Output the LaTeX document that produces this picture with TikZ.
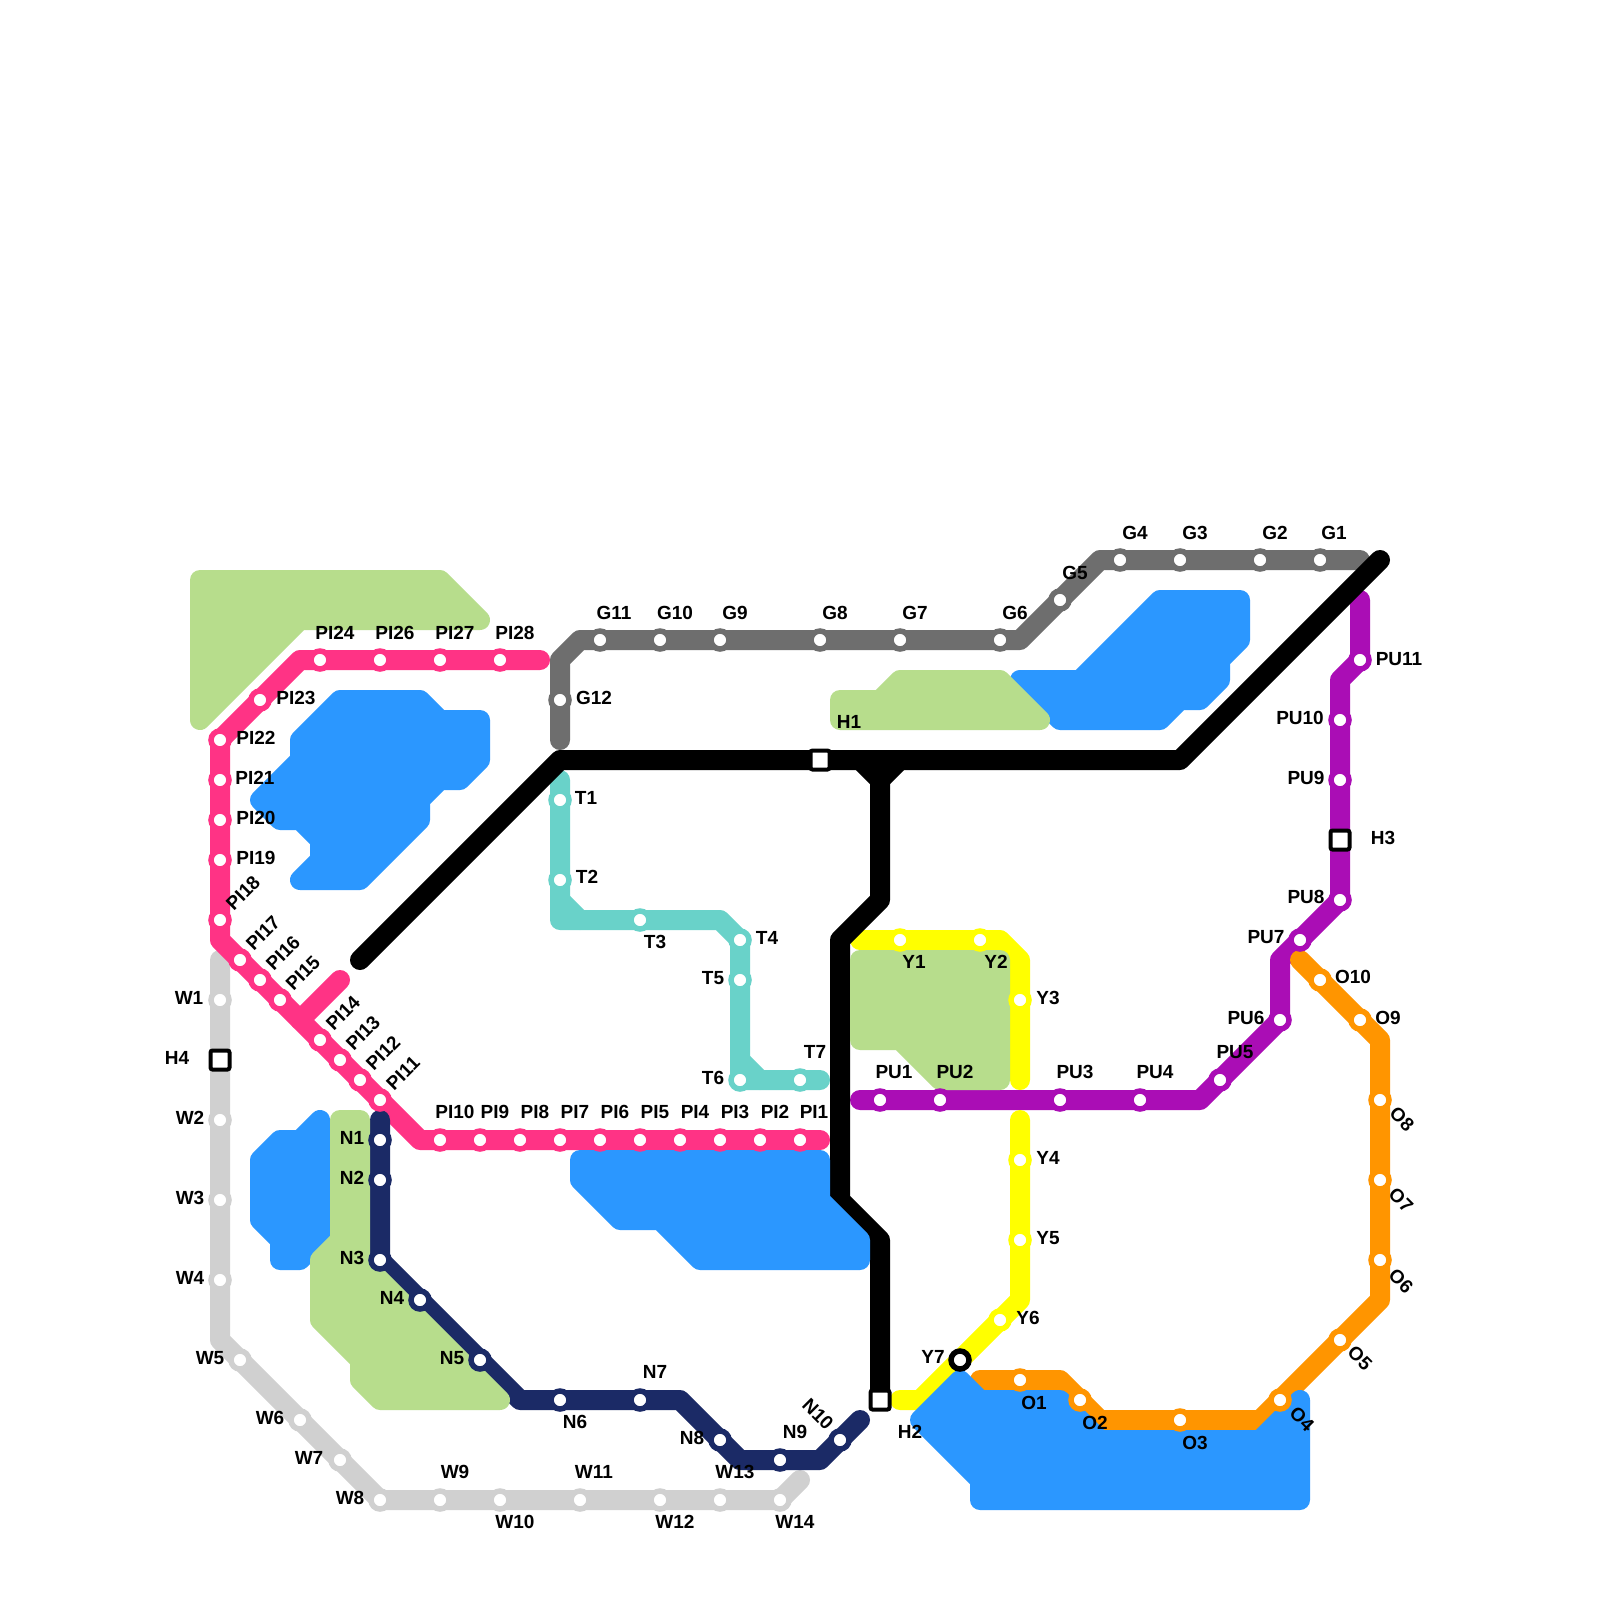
\documentclass[tikz,border=0pt]{standalone}
\usepackage{fontspec}
\setmainfont{Liberation Sans}
\definecolor{cpink}{HTML}{FF3385}
\definecolor{cnavy}{HTML}{1B2A66}
\definecolor{cteal}{HTML}{69D2C9}
\definecolor{cwater}{HTML}{2B97FF}
\definecolor{cpark}{HTML}{B7DD8C}
\definecolor{cyell}{HTML}{FFFF00}
\definecolor{corng}{HTML}{FF9500}
\definecolor{cpurp}{HTML}{AA0DB5}
\definecolor{cgrey}{HTML}{6E6E6E}
\definecolor{clite}{HTML}{D0D0D0}
\pgfdeclarelayer{lines}
\pgfdeclarelayer{water}
\pgfdeclarelayer{park}
\pgfsetlayers{lines,water,park,main}
\tikzset{
  metro/.style={draw=#1,line width=20pt,line cap=round,line join=round},
  area/.style={draw=#1,fill=#1,line width=20pt,line join=round},
  stn/.style={circle,fill=white,draw=#1,line width=5.5pt,minimum size=18pt,inner sep=0pt,outer sep=0pt},
  hub/.style={rectangle,rounded corners=2pt,fill=white,draw=black,line width=4pt,minimum size=19pt,inner sep=0pt,outer sep=0pt},
  lbl/.style={font=\fontsize{19}{19}\selectfont\bfseries,inner sep=0pt,text=black}
}
\newcommand\lab[4][0]{\node[lbl,rotate=#1] (l#2) at (#3,#4) {#2};}
\begin{document}
\begin{tikzpicture}[x=1pt,y=-1pt]
\useasboundingbox (0,0) rectangle (1600,1600);
% free corners of the lines
\foreach \n/\x/\y in {ga/560/740,gb/560/660,gc/580/640,gd/1020/640,ge/1100/560,gf/1360/560,
  pa/540/660,pb/300/660,pd/220/940,pe/300/1020,pf/420/1140,pg/820/1140,ph/340/980,
  ta/560/780,tb/560/920,tc/720/920,td/820/1080,te/560/900,tf/580/920,tg/740/1060,th/760/1080,
  ua/860/1100,ub/1200/1100,uc/1280/960,ud/1340/680,ue/1360/600,
  ya/860/940,yb/1000/940,yc/1020/960,yd/1020/1080,ye/1020/1120,yf/1020/1300,yg/920/1400,yh/900/1400,
  oa/980/1380,ob/1060/1380,oc/1100/1420,od/1260/1420,oe/1380/1300,of/1380/1040,og/1300/960,
  wa/220/960,wb/220/1340,we/800/1480,
  na/380/1120,nc/520/1400,nd/680/1400,ne/740/1460,nf/820/1460,ng/860/1420,
  ka/360/960,kb/560/760,kc/1180/760,kd/1380/560,ke/860/760,kf/880/780,kg/900/760,kh/880/900,ki/840/940,kj/840/1200,kk/880/1240}
  {\coordinate (\n) at (\x,\y);}
% stations
\foreach \n/\x/\y in {G1/1320/560,G2/1260/560,G3/1180/560,G4/1120/560,G5/1060/600,G6/1000/640,G7/900/640,G8/820/640,G9/720/640,G10/660/640,G11/600/640,G12/560/700}
  {\node[stn=cgrey] (\n) at (\x,\y) {};}
\foreach \n/\x/\y in {PI1/800/1140,PI2/760/1140,PI3/720/1140,PI4/680/1140,PI5/640/1140,PI6/600/1140,PI7/560/1140,PI8/520/1140,PI9/480/1140,PI10/440/1140,PI11/380/1100,PI12/360/1080,PI13/340/1060,PI14/320/1040,PI15/280/1000,PI16/260/980,PI17/240/960,PI18/220/920,PI19/220/860,PI20/220/820,PI21/220/780,PI22/220/740,PI23/260/700,PI24/320/660,PI26/380/660,PI27/440/660,PI28/500/660}
  {\node[stn=cpink] (\n) at (\x,\y) {};}
\foreach \n/\x/\y in {T1/560/800,T2/560/880,T3/640/920,T4/740/940,T5/740/980,T6/740/1080,T7/800/1080}
  {\node[stn=cteal] (\n) at (\x,\y) {};}
\foreach \n/\x/\y in {PU1/880/1100,PU2/940/1100,PU3/1060/1100,PU4/1140/1100,PU5/1220/1080,PU6/1280/1020,PU7/1300/940,PU8/1340/900,PU9/1340/780,PU10/1340/720,PU11/1360/660}
  {\node[stn=cpurp] (\n) at (\x,\y) {};}
\foreach \n/\x/\y in {Y1/900/940,Y2/980/940,Y3/1020/1000,Y4/1020/1160,Y5/1020/1240,Y6/1000/1320}
  {\node[stn=cyell] (\n) at (\x,\y) {};}
\node[stn=black] (Y7) at (960,1360) {};
\foreach \n/\x/\y in {O1/1020/1380,O2/1080/1400,O3/1180/1420,O4/1280/1400,O5/1340/1340,O6/1380/1260,O7/1380/1180,O8/1380/1100,O9/1360/1020,O10/1320/980}
  {\node[stn=corng] (\n) at (\x,\y) {};}
\foreach \n/\x/\y in {W1/220/1000,W2/220/1120,W3/220/1200,W4/220/1280,W5/240/1360,W6/300/1420,W7/340/1460,W8/380/1500,W9/440/1500,W10/500/1500,W11/580/1500,W12/660/1500,W13/720/1500,W14/780/1500}
  {\node[stn=clite] (\n) at (\x,\y) {};}
\foreach \n/\x/\y in {N1/380/1140,N2/380/1180,N3/380/1260,N4/420/1300,N5/480/1360,N6/560/1400,N7/640/1400,N8/720/1440,N9/780/1460,N10/840/1440}
  {\node[stn=cnavy] (\n) at (\x,\y) {};}
\node[hub] (H1) at (820,760) {};
\node[hub] (H2) at (880,1400) {};
\node[hub] (H3) at (1340,840) {};
\node[hub] (H4) at (220,1060) {};
% lines
\begin{pgfonlayer}{lines}
\fill[white] (0,0) rectangle (1600,1600);
\draw[metro=clite] (wa) -- (W1.center) -- (H4.center) -- (W2.center) -- (W3.center) -- (W4.center) -- (wb) -- (W5.center) -- (W6.center) -- (W7.center) -- (W8.center) -- (W9.center) -- (W14.center) -- (we);
\draw[metro=cgrey] (ga) -- (gb) -- (gc) -- (G11.center) -- (G6.center) -- (gd) -- (G5.center) -- (ge) -- (G4.center) -- (G1.center) -- (gf);
\draw[metro=cpink] (pa) -- (PI24.center) -- (pb) -- (PI23.center) -- (PI22.center) -- (PI18.center) -- (pd) -- (PI17.center) -- (pe) -- (PI11.center) -- (pf) -- (PI10.center) -- (pg);
\draw[metro=cpink] (pe) -- (ph);
\draw[metro=cteal] (ta) -- (T1.center) -- (T2.center) -- (tb) -- (T3.center) -- (tc) -- (T4.center) -- (T5.center) -- (T6.center) -- (T7.center) -- (td);
\draw[metro=cteal] (te) -- (tf);
\draw[metro=cteal] (tg) -- (th);
\draw[metro=cpurp] (ua) -- (PU1.center) -- (PU4.center) -- (ub) -- (PU5.center) -- (PU6.center) -- (uc) -- (PU7.center) -- (PU8.center) -- (H3.center) -- (PU9.center) -- (PU10.center) -- (ud) -- (PU11.center) -- (ue);
\draw[metro=cyell] (ya) -- (Y1.center) -- (Y2.center) -- (yb) -- (yc) -- (Y3.center) -- (yd);
\draw[metro=cyell] (ye) -- (Y4.center) -- (Y5.center) -- (yf) -- (Y6.center) -- (Y7.center) -- (yg) -- (yh);
\draw[metro=corng] (oa) -- (O1.center) -- (ob) -- (O2.center) -- (oc) -- (O3.center) -- (od) -- (O4.center) -- (O5.center) -- (oe) -- (O6.center) -- (O7.center) -- (O8.center) -- (of) -- (O9.center) -- (O10.center) -- (og);
\draw[metro=cnavy] (na) -- (N1.center) -- (N2.center) -- (N3.center) -- (N4.center) -- (N5.center) -- (nc) -- (N6.center) -- (N7.center) -- (nd) -- (N8.center) -- (ne) -- (N9.center) -- (nf) -- (N10.center) -- (ng);
\draw[metro=black] (ka) -- (kb) -- (H1.center) -- (kc) -- (kd);
\draw[metro=black] (ke) -- (kf) -- (kh) -- (ki) -- (kj) -- (kk) -- (H2.center);
\draw[metro=black] (kg) -- (kf);
\end{pgfonlayer}
% water
\begin{pgfonlayer}{water}
\draw[area=cwater] (340,700) -- (420,700) -- (440,720) -- (480,720) -- (480,760) -- (460,780) -- (440,780) -- (420,800) -- (420,820) -- (360,880) -- (300,880) -- (320,860) -- (320,840) -- (300,820) -- (280,820) -- (260,800) -- (300,760) -- (300,740) -- cycle;
\draw[area=cwater] (320,1120) -- (320,1240) -- (300,1260) -- (280,1260) -- (280,1240) -- (260,1220) -- (260,1160) -- (280,1140) -- (300,1140) -- cycle;
\draw[area=cwater] (580,1160) -- (820,1160) -- (820,1200) -- (860,1240) -- (860,1260) -- (700,1260) -- (660,1220) -- (620,1220) -- (580,1180) -- cycle;
\draw[area=cwater] (1160,600) -- (1240,600) -- (1240,640) -- (1220,660) -- (1220,680) -- (1200,700) -- (1180,700) -- (1160,720) -- (1060,720) -- (1020,680) -- (1080,680) -- cycle;
\draw[area=cwater] (960,1380) -- (980,1400) -- (1060,1400) -- (1100,1440) -- (1260,1440) -- (1300,1400) -- (1300,1500) -- (980,1500) -- (980,1480) -- (920,1420) -- cycle;
\end{pgfonlayer}
% parks
\begin{pgfonlayer}{park}
\draw[area=cpark] (200,580) -- (440,580) -- (480,620) -- (300,620) -- (200,720) -- cycle;
\draw[area=cpark] (340,1120) -- (360,1120) -- (360,1260) -- (500,1400) -- (380,1400) -- (360,1380) -- (360,1360) -- (320,1320) -- (320,1260) -- (340,1240) -- cycle;
\draw[area=cpark] (840,700) -- (880,700) -- (900,680) -- (1000,680) -- (1040,720) -- (840,720) -- cycle;
\draw[area=cpark] (860,960) -- (1000,960) -- (1000,1080) -- (940,1080) -- (900,1040) -- (860,1040) -- cycle;
\end{pgfonlayer}
% labels
\lab{PI24}{335}{633}\lab{PI26}{395}{633}\lab{PI27}{455}{633}\lab{PI28}{515}{633}
\lab{PI23}{296}{698}\lab{PI22}{256}{738}\lab{PI21}{255}{778}\lab{PI20}{256}{818}\lab{PI19}{256}{858}
\lab[45]{PI18}{243}{893}\lab[45]{PI17}{263}{933}\lab[45]{PI16}{283}{953}\lab[45]{PI15}{303}{973}
\lab[45]{PI14}{343}{1013}\lab[45]{PI13}{363}{1033}\lab[45]{PI12}{383}{1053}\lab[45]{PI11}{403}{1073}
\lab{PI10}{455}{1112}\lab{PI9}{495}{1112}\lab{PI8}{535}{1112}\lab{PI7}{575}{1112}\lab{PI6}{615}{1112}
\lab{PI5}{655}{1112}\lab{PI4}{695}{1112}\lab{PI3}{735}{1112}\lab{PI2}{775}{1112}\lab{PI1}{814}{1112}
\lab{W1}{189}{998}\lab{H4}{177}{1058}\lab{W2}{190}{1118}\lab{W3}{190}{1198}\lab{W4}{190}{1278}
\lab{W5}{210}{1358}\lab{W6}{270}{1418}\lab{W7}{309}{1458}\lab{W8}{350}{1498}
\lab{W9}{455}{1472}\lab{W10}{515}{1522}\lab{W11}{594}{1472}\lab{W12}{675}{1522}\lab{W13}{735}{1472}\lab{W14}{795}{1522}
\lab{N1}{352}{1138}\lab{N2}{352}{1178}\lab{N3}{352}{1258}\lab{N4}{392}{1298}\lab{N5}{452}{1358}
\lab{N6}{575}{1422}\lab{N7}{655}{1372}\lab{N8}{692}{1438}\lab{N9}{795}{1432}\lab[-45]{N10}{818}{1414}
\lab{H1}{849}{722}\lab{H2}{910}{1432}\lab{H3}{1383}{838}
\lab{Y1}{914}{962}\lab{Y2}{996}{962}\lab{Y3}{1048}{998}\lab{Y4}{1048}{1158}\lab{Y5}{1048}{1238}\lab{Y6}{1028}{1318}\lab{Y7}{933}{1357}
\lab{PU1}{894}{1072}\lab{PU2}{955}{1072}\lab{PU3}{1075}{1072}\lab{PU4}{1155}{1072}\lab{PU5}{1235}{1052}
\lab{PU6}{1246}{1018}\lab{PU7}{1266}{937}\lab{PU8}{1306}{897}\lab{PU9}{1306}{778}\lab{PU10}{1300}{718}\lab{PU11}{1399}{659}
\lab{O1}{1034}{1403}\lab{O2}{1095}{1423}\lab{O3}{1195}{1443}\lab[-45]{O4}{1302}{1419}\lab[-45]{O5}{1360}{1358}
\lab[-45]{O6}{1401}{1281}\lab[-45]{O7}{1401}{1200}\lab[-45]{O8}{1402}{1119}\lab{O9}{1388}{1018}\lab{O10}{1353}{977}
\lab{G1}{1334}{533}\lab{G2}{1275}{533}\lab{G3}{1195}{533}\lab{G4}{1135}{533}\lab{G5}{1075}{573}\lab{G6}{1015}{613}
\lab{G7}{915}{613}\lab{G8}{835}{613}\lab{G9}{735}{613}\lab{G10}{675}{613}\lab{G11}{614}{613}\lab{G12}{594}{698}
\lab{T1}{586}{798}\lab{T2}{587}{877}\lab{T3}{655}{942}\lab{T4}{767}{938}\lab{T5}{713}{978}\lab{T6}{713}{1078}\lab{T7}{815}{1052}
\end{tikzpicture}
\end{document}
